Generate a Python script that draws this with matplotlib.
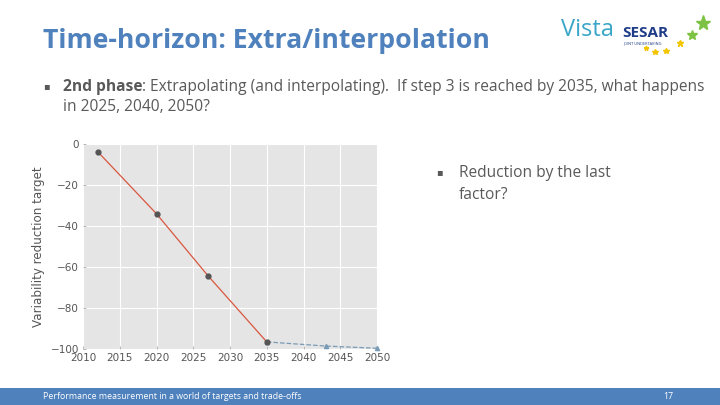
import matplotlib.pyplot as plt
from matplotlib.patches import Rectangle

# data
solid_years = [2012, 2020, 2027, 2035]
solid_target = [-3.6, -33.9, -64.1, -96.4]
dashed_years = [2035, 2043, 2050]
dashed_target = [-96.4, -98.4, -99.5]
x_ticks = [2010, 2015, 2020, 2025, 2030, 2035, 2040, 2045, 2050]
y_ticks = [0, -20, -40, -60, -80, -100]

title = 'Time-horizon: Extra/interpolation'
bullet_bold = '2nd phase'
bullet_rest = ': Extrapolating (and interpolating).  If step 3 is reached by 2035, what happens'
bullet_line2 = 'in 2025, 2040, 2050?'
side_lines = ['Reduction by the last', 'factor?']
footer = 'Performance measurement in a world of targets and trade-offs'
page = '17'

plt.rcParams['font.family'] = ['Open Sans', 'DejaVu Sans']

W, H = 720, 405
fig = plt.figure(figsize=(7.2, 4.05), dpi=100)
fig.patch.set_facecolor('white')

text_gray = '#595959'
slide_blue = '#4F81BD'


def px(x, y):
    return x / W, 1 - y / H


# title
fig.text(*px(43, 41), title, color=slide_blue, fontsize=19.2,
         fontweight='bold', va='center', ha='left')

# logo (approximate)
fig.text(*px(561, 30), 'Vista', color='#3AA6C8', fontsize=17,
         va='center', ha='left')
fig.text(*px(622, 33), 'SESAR', color='#1F3C88', fontsize=11,
         fontweight='bold', va='center', ha='left')
fig.text(*px(623, 43), 'JOINT UNDERTAKING', color='#1F3C88',
         fontsize=2.8, va='center', ha='left')
for sx, sy, ms, col in [(703, 23, 11, '#7DC242'), (692, 35, 7, '#7DC242'),
                        (680, 43, 5, '#F2C500'), (666, 51, 4, '#F2C500'),
                        (655, 52, 4, '#F2C500'), (646, 48, 3.5, '#F2C500')]:
    fig.lines.append(plt.Line2D([sx / W], [1 - sy / H], marker='*', markersize=ms,
                                color=col, transform=fig.transFigure))

# bullets
fs = 11.2
fig.text(*px(43, 87), '\u25aa', color=text_gray, fontsize=7,
         va='center', ha='left')
bold = fig.text(*px(63, 87), bullet_bold, color=text_gray, fontsize=fs,
                fontweight='bold', va='center', ha='left')
renderer = fig.canvas.get_renderer()
bb = bold.get_window_extent(renderer)
fig.text(bb.x1 / W, 1 - 87 / H, bullet_rest, color=text_gray, fontsize=fs,
         va='center', ha='left')
fig.text(*px(63, 107), bullet_line2, color=text_gray,
         fontsize=fs, va='center', ha='left')

fig.text(*px(436, 173), '\u25aa', color=text_gray, fontsize=7,
         va='center', ha='left')
fig.text(*px(459, 173), side_lines[0], color=text_gray,
         fontsize=fs, va='center', ha='left')
fig.text(*px(459, 195), side_lines[1], color=text_gray,
         fontsize=fs, va='center', ha='left')

# footer bar
fig.patches.append(Rectangle((0, 0), 1, 17 / H, transform=fig.transFigure,
                             facecolor=slide_blue, edgecolor='none'))
fig.text(43 / W, 8.5 / H, footer, color='white', fontsize=6.3,
         va='center', ha='left')
fig.text(668 / W, 8.5 / H, page, color='white', fontsize=6.3,
         va='center', ha='center')

# chart
ax = fig.add_axes([83 / W, 1 - 349.3 / H, 294 / W, 205 / H])
ax.set_facecolor('#E5E5E5')
ax.grid(True, color='white', linewidth=0.8)
ax.set_axisbelow(True)
for s in ax.spines.values():
    s.set_visible(False)

ax.plot(solid_years, solid_target, color='#D9573F', linewidth=0.9,
        marker='o', markersize=3.5, markerfacecolor='#555555',
        markeredgecolor='#555555', zorder=3)
ax.plot(dashed_years, dashed_target, color='#7A9BB5', linewidth=0.9,
        linestyle='--', marker='^', markersize=3, markerfacecolor='#7A9BB5',
        markeredgecolor='#7A9BB5', zorder=2, clip_on=False)

ax.set_xlim(2010, 2050)
ax.set_ylim(-100, 0)
ax.set_xticks(x_ticks)
ax.set_yticks(y_ticks)
ax.set_xticklabels([str(t) for t in x_ticks], family='DejaVu Sans')
ax.set_yticklabels(['0', '\u221220', '\u221240', '\u221260', '\u221280', '\u2212100'],
                   family='DejaVu Sans')
ax.tick_params(colors='#9A9A9A', labelcolor='#555555', labelsize=7.5,
               length=2, width=0.5, direction='in', pad=3)
ax.set_ylabel('Variability reduction target', color='#555555', fontsize=8.6,
              family='DejaVu Sans', labelpad=4)

fig.savefig('out.png', dpi=100)
